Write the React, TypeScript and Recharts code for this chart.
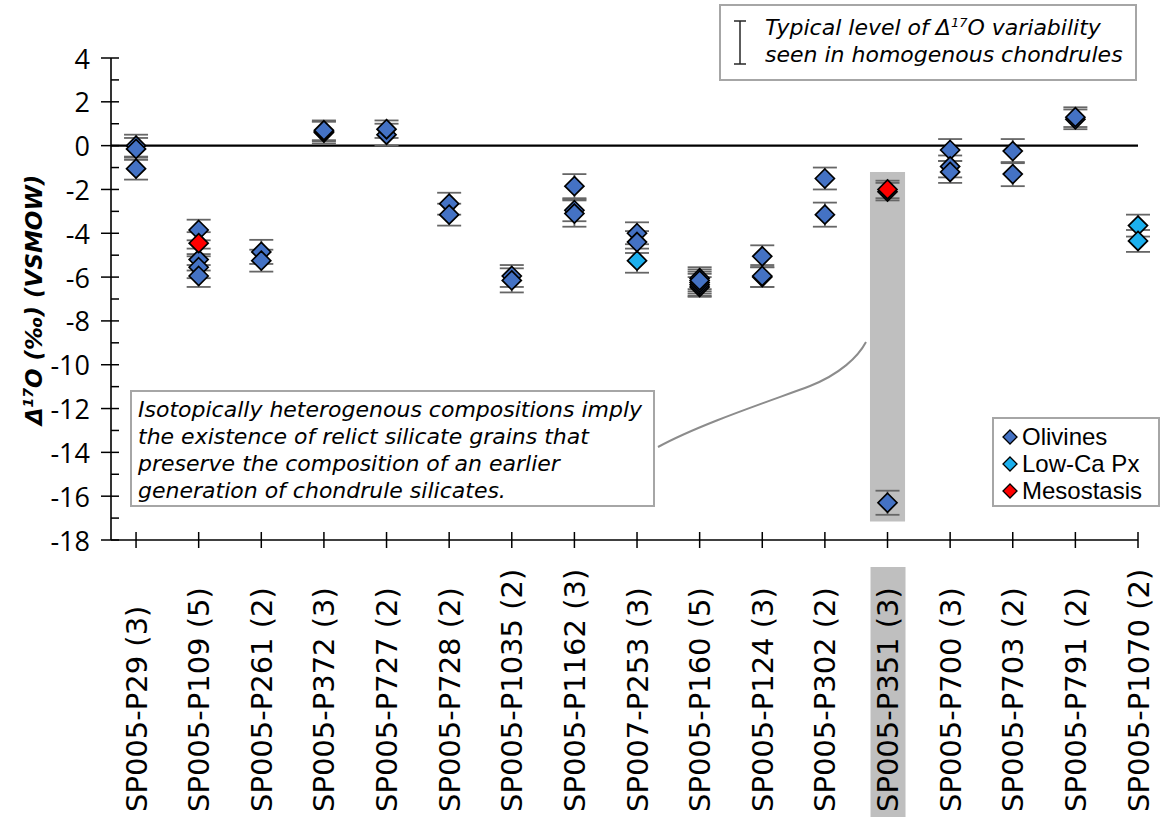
import { ScatterChart, Scatter, XAxis, YAxis, ErrorBar, ReferenceLine, ReferenceArea, Legend } from "recharts";

const categories = [
  "SP005-P29 (3)",
  "SP005-P109 (5)",
  "SP005-P261 (2)",
  "SP005-P372 (3)",
  "SP005-P727 (2)",
  "SP005-P728 (2)",
  "SP005-P1035 (2)",
  "SP005-P1162 (3)",
  "SP007-P253 (3)",
  "SP005-P160 (5)",
  "SP005-P124 (3)",
  "SP005-P302 (2)",
  "SP005-P351 (3)",
  "SP005-P700 (3)",
  "SP005-P703 (2)",
  "SP005-P791 (2)",
  "SP005-P1070 (2)",
];
const xTicks = [1, 2, 3, 4, 5, 6, 7, 8, 9, 10, 11, 12, 13, 14, 15, 16, 17];
const yTicks = [-18, -17, -16, -15, -14, -13, -12, -11, -10, -9, -8, -7, -6, -5, -4, -3, -2, -1, 0, 1, 2, 3, 4];
const highlighted = 13; // SP005-P351

// [chondrule number, Δ17O ‰, error]
const olivines: [number, number, number][] = [
  [1, 0.0, 0.5], [1, -0.15, 0.5], [1, -1.05, 0.5],
  [2, -3.85, 0.47], [2, -5.2, 0.5], [2, -5.55, 0.5], [2, -5.95, 0.5],
  [3, -4.85, 0.55], [3, -5.25, 0.5],
  [4, 0.6, 0.5], [4, 0.65, 0.45], [4, 0.7, 0.45],
  [5, 0.5, 0.5], [5, 0.75, 0.4],
  [6, -2.65, 0.5], [6, -3.15, 0.5],
  [7, -5.95, 0.5], [7, -6.15, 0.55],
  [8, -1.85, 0.55], [8, -2.95, 0.5], [8, -3.1, 0.6],
  [9, -4.0, 0.5], [9, -4.4, 0.5],
  [10, -6.05, 0.5], [10, -6.45, 0.45], [10, -6.35, 0.5], [10, -6.25, 0.5], [10, -6.15, 0.5],
  [11, -5.05, 0.5], [11, -6.0, 0.45], [11, -5.95, 0.5],
  [12, -1.5, 0.5], [12, -3.15, 0.55],
  [13, -2.1, 0.4], [13, -16.3, 0.55],
  [14, -0.2, 0.5], [14, -0.95, 0.5], [14, -1.2, 0.5],
  [15, -0.25, 0.55], [15, -1.3, 0.55],
  [16, 1.2, 0.45], [16, 1.3, 0.45],
];
const lowCaPx: [number, number, number][] = [
  [9, -5.25, 0.55],
  [17, -3.65, 0.5], [17, -4.35, 0.5],
];
const mesostasis: [number, number, number][] = [
  [2, -4.45, 0.5],
  [13, -2.0, 0.4],
];

const series = [
  { name: "Olivines", color: "#4472c4", rows: olivines },
  { name: "Low-Ca Px", color: "#1cb0ee", rows: lowCaPx },
  { name: "Mesostasis", color: "#ff0000", rows: mesostasis },
];

const toPoints = (rows: [number, number, number][]) => rows.map(([x, y, e]) => ({ x, y, e }));

const diamond = (fill: string) => (props: any) => {
  const { cx, cy } = props;
  const r = 9.5;
  return (
    <polygon
      points={`${cx},${cy - r} ${cx + r},${cy} ${cx},${cy + r} ${cx - r},${cy}`}
      fill={fill}
      stroke="#000"
      strokeWidth={1.7}
    />
  );
};

function XTick(props: any) {
  const { x, y, payload } = props;
  const label = categories[payload.value - 1];
  return (
    <g>
      {payload.value === highlighted && <rect x={x - 17} y={y + 27} width={35} height={250} fill="#bfbfbf" />}
      <line x1={x} x2={x} y1={y - 8} y2={y + 8} stroke="#000" strokeWidth={1.5} />
      <text
        transform={`translate(${x + 10.5},${y + 272}) rotate(-90)`}
        textAnchor="start"
        fontFamily="DejaVu Sans"
        fontSize={29}
        fill="#000"
      >
        {label}
      </text>
    </g>
  );
}

function YTick(props: any) {
  const { x, y, payload } = props;
  const major = payload.value % 2 === 0;
  return (
    <g>
      <line x1={major ? x - 10 : x} x2={x + 8} y1={y} y2={y} stroke="#000" strokeWidth={1.5} />
      {major && (
        <text x={x - 21} y={y} textAnchor="end" dominantBaseline="central" fontFamily="Open Sans" fontSize={27} fill="#000">
          {payload.value}
        </text>
      )}
    </g>
  );
}

function LegendBox() {
  return (
    <div
      style={{
        border: "2px solid #a6a6a6",
        background: "#fff",
        width: 168,
        height: 90,
        boxSizing: "border-box",
        padding: "4px 0 0 8px",
        fontFamily: "Liberation Sans",
        fontSize: 24,
        lineHeight: "27px",
        color: "#000",
      }}
    >
      {series.map((s) => (
        <div key={s.name} style={{ display: "flex", alignItems: "center", height: 27 }}>
          <svg width={16} height={16} style={{ flex: "none" }}>
            <polygon points="8,1 15,8 8,15 1,8" fill={s.color} stroke="#000" strokeWidth={1.3} />
          </svg>
          <span style={{ marginLeft: 4 }}>{s.name}</span>
        </div>
      ))}
    </div>
  );
}

const boxText: React.CSSProperties = {
  position: "absolute",
  boxSizing: "border-box",
  border: "2px solid #a6a6a6",
  background: "#fff",
  fontFamily: "DejaVu Sans",
  fontStyle: "italic",
  fontSize: 22,
  lineHeight: "27px",
  color: "#000",
  whiteSpace: "nowrap",
};

export default function App() {
  return (
    <div style={{ position: "absolute", left: 0, top: 0, width: 1164, height: 823, background: "#fff" }}>
      <ScatterChart width={1164} height={823} margin={{ top: 58, right: 26, bottom: 0, left: 0 }}>
        <ReferenceArea x1={highlighted - 0.28} x2={highlighted + 0.28} y1={-17.15} y2={-1.2} fill="#bfbfbf" fillOpacity={1} stroke="none" />
        <XAxis
          type="number"
          dataKey="x"
          domain={[0.6, 17]}
          ticks={xTicks}
          interval={0}
          height={283}
          tickSize={0}
          tickMargin={0}
          tickLine={false}
          tick={<XTick />}
          axisLine={{ stroke: "#000", strokeWidth: 1.6 }}
        />
        <YAxis
          type="number"
          dataKey="y"
          domain={[-18, 4]}
          ticks={yTicks}
          interval={0}
          width={111}
          tickSize={0}
          tickMargin={0}
          tickLine={false}
          tick={<YTick />}
          axisLine={{ stroke: "#000", strokeWidth: 1.6 }}
        />
        <ReferenceLine y={0} stroke="#000" strokeWidth={2.2} />
        {series.map((s) => (
          <Scatter key={s.name} name={s.name} data={toPoints(s.rows)} fill={s.color} shape={diamond(s.color)} isAnimationActive={false}>
            <ErrorBar dataKey="e" direction="y" width={12} stroke="#666" strokeWidth={1.8} />
          </Scatter>
        ))}
        <Legend
          layout="vertical"
          align="center"
          verticalAlign="middle"
          width={168}
          height={90}
          content={<LegendBox />}
          wrapperStyle={{ left: 992, top: 417, width: 168, height: 90 }}
        />
      </ScatterChart>

      <svg width={1164} height={823} style={{ position: "absolute", left: 0, top: 0, pointerEvents: "none" }}>
        <text
          transform="translate(42,300) rotate(-90)"
          textAnchor="middle"
          fontFamily="DejaVu Sans"
          fontWeight="bold"
          fontStyle="italic"
          fontSize={23}
          fill="#000"
        >
          Δ<tspan dy={-9} fontSize={14}>17</tspan>
          <tspan dy={9}>O (‰) (VSMOW)</tspan>
        </text>
        <path d="M658,447 C700,424 770,401 810,386 C840,374 858,357 866,342" fill="none" stroke="#8c8c8c" strokeWidth={2} />
      </svg>

      <div style={{ ...boxText, left: 719, top: 4, width: 418, height: 77, padding: "8px 0 0 44px" }}>
        <svg width={16} height={48} style={{ position: "absolute", left: 11, top: 12 }}>
          <line x1={8} x2={8} y1={3} y2={46} stroke="#262626" strokeWidth={1.5} />
          <line x1={2} x2={14} y1={3} y2={3} stroke="#262626" strokeWidth={1.5} />
          <line x1={2} x2={14} y1={46} y2={46} stroke="#262626" strokeWidth={1.5} />
        </svg>
        <div>
          Typical level of Δ<sup style={{ fontSize: 13, verticalAlign: "8px", lineHeight: 0 }}>17</sup>O variability
        </div>
        <div>seen in homogenous chondrules</div>
      </div>

      <div style={{ ...boxText, left: 130, top: 390, width: 525, height: 117, padding: "4px 0 0 6px" }}>
        <div>Isotopically heterogenous compositions imply</div>
        <div>the existence of relict silicate grains that</div>
        <div>preserve the composition of an earlier</div>
        <div>generation of chondrule silicates.</div>
      </div>
    </div>
  );
}
